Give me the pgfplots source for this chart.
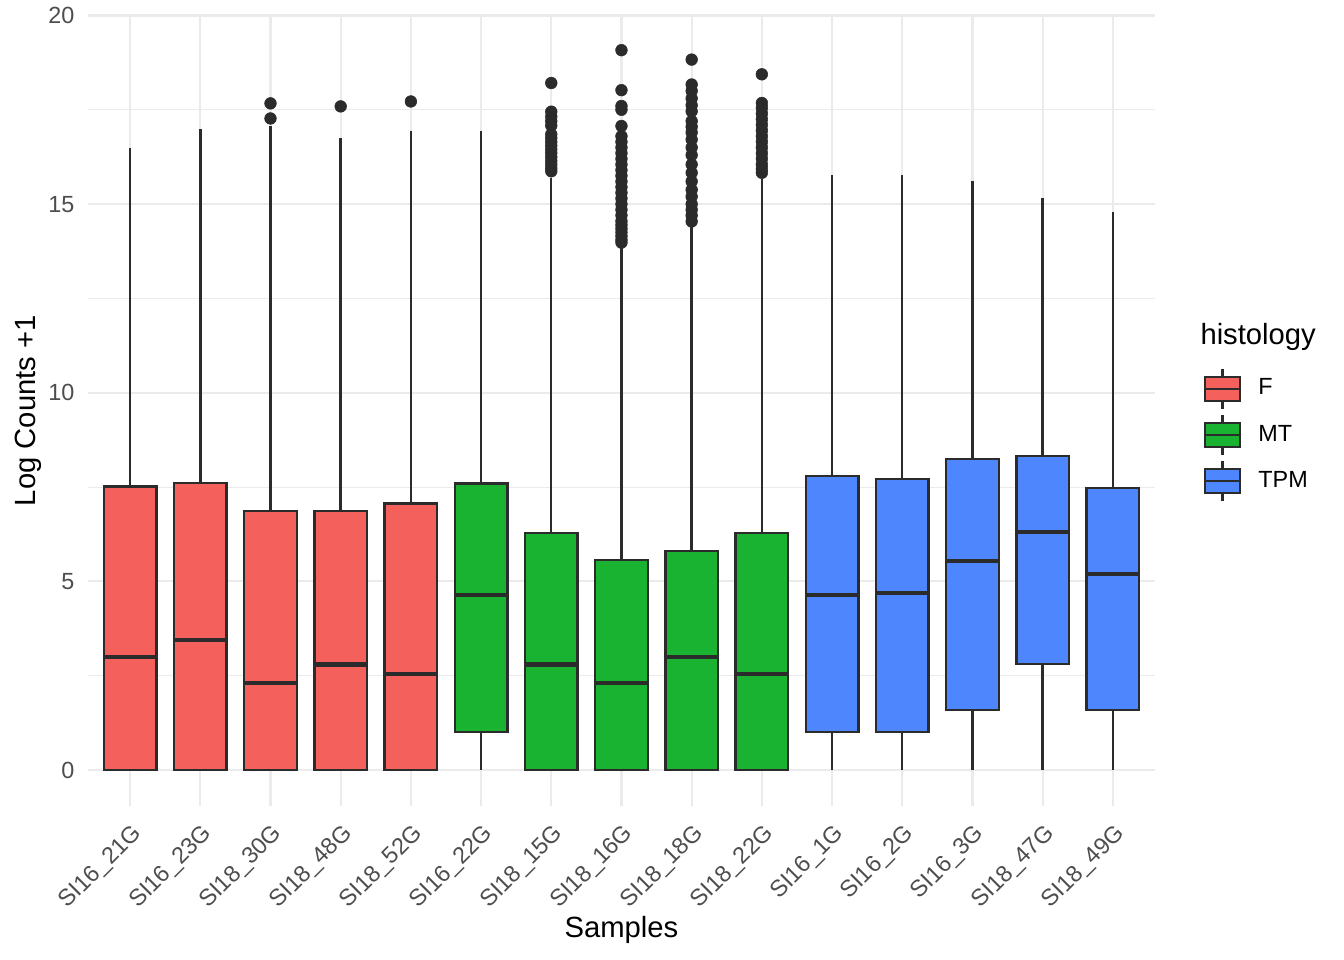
\documentclass[border=0pt]{standalone}
\usepackage{fontspec}
\setmainfont{Liberation Sans}
\usepackage{pgfplots}
\pgfplotsset{compat=1.18}
\usepgfplotslibrary{statistics}
\definecolor{cF}{HTML}{F4615D}
\definecolor{cMT}{HTML}{19B231}
\definecolor{cTPM}{HTML}{4E86FE}
\definecolor{edge}{HTML}{2B2B2B}
\definecolor{gridc}{HTML}{EBEBEB}
\definecolor{tickc}{HTML}{4D4D4D}
\pgfplotsset{
  bx/.style={draw=edge, line width=0.9bp, solid, forget plot,
    mark=*, mark size=2.2bp, mark options={fill=edge, draw=edge, line width=0.2bp},
    boxplot/draw direction=y, boxplot/box extend=0.75, boxplot/whisker extend=0,
    boxplot/every median/.style={line width=1.7bp}},
  boxleg/.style={legend image code/.code={
    \draw[draw=edge, line width=0.9bp] (6.5bp,4.5bp)--(6.5bp,7.5bp);
    \draw[draw=edge, line width=0.9bp] (6.5bp,-4.5bp)--(6.5bp,-7.5bp);
    \draw[#1, draw=edge, line width=0.9bp] (0bp,-4.5bp) rectangle (13bp,4.5bp);
    \draw[draw=edge, line width=0.9bp] (0bp,0bp)--(13bp,0bp);
  }},
}
\begin{document}
\begin{tikzpicture}
\begin{axis}[
  at={(0,0)}, anchor=south west,
  scale only axis, width=400.1bp, height=296.4bp,
  xmin=0.4, xmax=15.6, ymin=-0.95, ymax=20,
  clip mode=individual,
  axis line style={draw=none},
  major tick length=0pt, minor tick length=0pt,
  xtick={1,...,15},
  xticklabels={SI16\_21G,SI16\_23G,SI18\_30G,SI18\_48G,SI18\_52G,SI16\_22G,SI18\_15G,SI18\_16G,SI18\_18G,SI18\_22G,SI16\_1G,SI16\_2G,SI16\_3G,SI18\_47G,SI18\_49G},
  ytick={0,5,10,15,20},
  minor ytick={2.5,7.5,12.5,17.5},
  xmajorgrids, ymajorgrids, yminorgrids,
  major grid style={draw=gridc, line width=0.8bp},
  minor grid style={draw=gridc, line width=0.4bp},
  /pgf/number format/assume math mode=true,
  ticklabel style={font=\fontsize{8.8}{10}\selectfont, text=tickc},
  yticklabel style={inner sep=0pt, xshift=-4.9bp},
  xticklabel style={rotate=45, anchor=north east, inner sep=0pt, yshift=-4.5bp, xshift=-4.1bp},
  xlabel={Samples}, ylabel={Log Counts +1},
  label style={font=\fontsize{11}{13}\selectfont},
  xlabel style={at={(axis description cs:0.5,-0.157)}, anchor=center},
  ylabel style={at={(axis description cs:-0.056,0.5)}, anchor=center, rotate=0},
  legend style={at={(axis description cs:1.0455,0.555)}, anchor=north west, draw=none, fill=none,
    inner sep=0pt, row sep=1.4bp, font=\fontsize{8.8}{10}\selectfont,
    nodes={inner sep=0pt, text=black}, column sep=6.5bp},
  legend cell align=left,
]
% F
\addplot[bx, fill=cF, boxplot prepared={draw position=1, lower whisker=0, lower quartile=0, median=3.00, upper quartile=7.51, upper whisker=16.50}] coordinates {};
\addplot[bx, fill=cF, boxplot prepared={draw position=2, lower whisker=0, lower quartile=0, median=3.45, upper quartile=7.61, upper whisker=17.00}] coordinates {};
\addplot[bx, fill=cF, boxplot prepared={draw position=3, lower whisker=0, lower quartile=0, median=2.31, upper quartile=6.87, upper whisker=17.06}] coordinates {(0,17.27) (0,17.67)};
\addplot[bx, fill=cF, boxplot prepared={draw position=4, lower whisker=0, lower quartile=0, median=2.79, upper quartile=6.87, upper whisker=16.74}] coordinates {(0,17.59)};
\addplot[bx, fill=cF, boxplot prepared={draw position=5, lower whisker=0, lower quartile=0, median=2.55, upper quartile=7.06, upper whisker=16.95}] coordinates {(0,17.72)};
% MT
\addplot[bx, fill=cMT, boxplot prepared={draw position=6, lower whisker=0, lower quartile=1.0, median=4.64, upper quartile=7.59, upper whisker=16.95}] coordinates {};
\addplot[bx, fill=cMT, boxplot prepared={draw position=7, lower whisker=0, lower quartile=0, median=2.79, upper quartile=6.29, upper whisker=15.70}] coordinates {(0,15.87) (0,15.95) (0,16.05) (0,16.15) (0,16.25) (0,16.35) (0,16.45) (0,16.55) (0,16.65) (0,16.75) (0,16.85) (0,17.08) (0,17.2) (0,17.32) (0,17.45) (0,18.21)};
\addplot[bx, fill=cMT, boxplot prepared={draw position=8, lower whisker=0, lower quartile=0, median=2.31, upper quartile=5.57, upper whisker=13.93}] coordinates {(0,13.98) (0,14.05) (0,14.15) (0,14.25) (0,14.35) (0,14.45) (0,14.55) (0,14.7) (0,14.85) (0,15.0) (0,15.15) (0,15.3) (0,15.45) (0,15.6) (0,15.75) (0,15.9) (0,16.05) (0,16.2) (0,16.35) (0,16.5) (0,16.65) (0,16.8) (0,17.07) (0,17.5) (0,17.6) (0,18.02) (0,19.08)};
\addplot[bx, fill=cMT, boxplot prepared={draw position=9, lower whisker=0, lower quartile=0, median=3.00, upper quartile=5.81, upper whisker=14.46}] coordinates {(0,14.54) (0,14.7) (0,14.85) (0,15.0) (0,15.2) (0,15.38) (0,15.6) (0,15.83) (0,16.05) (0,16.3) (0,16.5) (0,16.71) (0,16.9) (0,17.05) (0,17.2) (0,17.46) (0,17.62) (0,17.8) (0,18.0) (0,18.17) (0,18.83)};
\addplot[bx, fill=cMT, boxplot prepared={draw position=10, lower whisker=0, lower quartile=0, median=2.55, upper quartile=6.29, upper whisker=15.67}] coordinates {(0,15.83) (0,15.93) (0,16.05) (0,16.2) (0,16.35) (0,16.5) (0,16.65) (0,16.8) (0,16.95) (0,17.1) (0,17.25) (0,17.4) (0,17.55) (0,17.68) (0,18.44)};
% TPM
\addplot[bx, fill=cTPM, boxplot prepared={draw position=11, lower whisker=0, lower quartile=1.0, median=4.64, upper quartile=7.80, upper whisker=15.76}] coordinates {};
\addplot[bx, fill=cTPM, boxplot prepared={draw position=12, lower whisker=0, lower quartile=1.0, median=4.69, upper quartile=7.72, upper whisker=15.76}] coordinates {};
\addplot[bx, fill=cTPM, boxplot prepared={draw position=13, lower whisker=0, lower quartile=1.585, median=5.54, upper quartile=8.25, upper whisker=15.62}] coordinates {};
\addplot[bx, fill=cTPM, boxplot prepared={draw position=14, lower whisker=0, lower quartile=2.807, median=6.31, upper quartile=8.33, upper whisker=15.17}] coordinates {};
\addplot[bx, fill=cTPM, boxplot prepared={draw position=15, lower whisker=0, lower quartile=1.585, median=5.20, upper quartile=7.48, upper whisker=14.80}] coordinates {};
\addlegendimage{boxleg, fill=cF}
\addlegendentry{F}
\addlegendimage{boxleg, fill=cMT}
\addlegendentry{MT}
\addlegendimage{boxleg, fill=cTPM}
\addlegendentry{TPM}
\node[anchor=west, inner sep=0pt, font=\fontsize{11}{13}\selectfont] at (axis description cs:1.0422,0.593) {histology};
\end{axis}
\pgfresetboundingbox
\useasboundingbox (-33bp,-57.8bp) rectangle (471bp,302.2bp);
\end{tikzpicture}
\end{document}
